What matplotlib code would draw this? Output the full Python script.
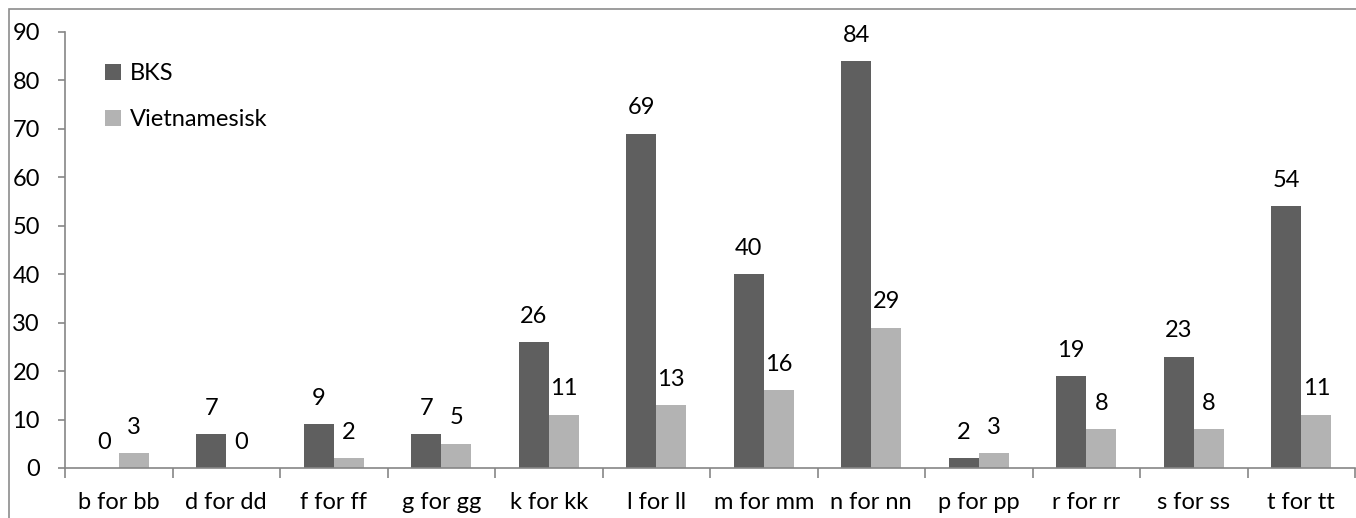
import matplotlib.pyplot as plt
import matplotlib.patches as mpatches
import numpy as np

categories = ['b for bb', 'd for dd', 'f for ff', 'g for gg', 'k for kk', 'l for ll',
              'm for mm', 'n for nn', 'p for pp', 'r for rr', 's for ss', 't for tt']
bks = [0, 7, 9, 7, 26, 69, 40, 84, 2, 19, 23, 54]
vietnamesisk = [3, 0, 2, 5, 11, 13, 16, 29, 3, 8, 8, 11]

plt.rcParams['font.family'] = ['Lato', 'DejaVu Sans']
fs = 17

fig = plt.figure(figsize=(13.56, 5.18), dpi=100)
ax = fig.add_axes([65 / 1356, 1 - 468 / 518, 1290 / 1356, 436 / 518])

# ramme rundt hele figuren
fig.patches.append(mpatches.Rectangle((9 / 1356, -0.1), 1.2, 1.1 - 9 / 518,
                                      transform=fig.transFigure, fill=False,
                                      edgecolor='#8c8c8c', linewidth=1.2))

x = np.arange(len(categories))
w = 0.28
b1 = ax.bar(x - w / 2, bks, w, color='#5f5f5f', label='BKS')
b2 = ax.bar(x + w / 2, vietnamesisk, w, color='#b3b3b3', label='Vietnamesisk')
ax.bar_label(b1, padding=11, fontsize=fs)
ax.bar_label(b2, padding=11, fontsize=fs)

ax.set_xlim(-0.5, len(categories) - 0.5)
ax.set_ylim(0, 90)
ax.set_yticks(range(0, 91, 10))
ax.set_xticks(x)
ax.set_xticklabels(categories)
ax.set_xticks(np.arange(-0.5, len(categories)), minor=True)
ax.tick_params(axis='x', which='major', length=0, pad=17, labelsize=fs)
ax.tick_params(axis='x', which='minor', length=7, color='#868686', width=1.2)
ax.tick_params(axis='y', length=5, color='#868686', width=1.2, pad=13, labelsize=fs)

for s in ['top', 'right']:
    ax.spines[s].set_visible(False)
for s in ['left', 'bottom']:
    ax.spines[s].set_color('#868686')
    ax.spines[s].set_linewidth(1.2)

ax.legend(loc='upper left', bbox_to_anchor=(0.022, 0.955), frameon=False,
          fontsize=fs, handlelength=0.65, handleheight=0.65, handletextpad=0.4,
          labelspacing=1.05, borderpad=0)

fig.savefig('out.png', dpi=100)
